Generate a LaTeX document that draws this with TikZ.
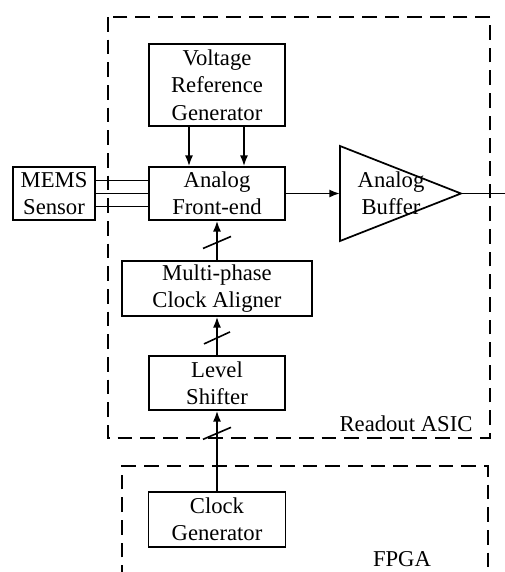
\documentclass[tikz,border=0pt]{standalone}
\usepackage{fontspec}
\setmainfont{Liberation Serif}
\usetikzlibrary{arrows.meta,calc}

\tikzset{every picture/.style={line width=1.3pt}}
\tikzset{
	blk/.style={draw, rectangle, align=center, inner sep=0pt, font=\fontsize{17}{20.5}\selectfont},
	lbl/.style={inner sep=0pt, font=\fontsize{17}{20.5}\selectfont},
	sig/.style={-{Latex[length=8pt,width=6pt]}},
	bound/.style={dash pattern={on 11pt off 6pt}},
	busmark/.style={line width=1.2pt}
}

\begin{document}
\begin{tikzpicture}[x=0.75pt,y=0.75pt,yscale=-1,xscale=1]
	\useasboundingbox (0,0) rectangle (505,572);

	%Blocks
	\node[blk, minimum width=136*0.75pt, minimum height=82*0.75pt] (vrg) at (217,85) {Voltage\\Reference\\Generator};
	\node[blk, minimum width=136*0.75pt, minimum height=53*0.75pt] (afe) at (217,193.5) {Analog\\Front-end};
	\node[blk, minimum width=82*0.75pt, minimum height=53*0.75pt] (mems) at (54,193.5) {MEMS\\Sensor};
	\node[blk, minimum width=190*0.75pt, minimum height=55*0.75pt] (mpca) at (217,288.5) {Multi-phase\\Clock Aligner};
	\node[blk, minimum width=136*0.75pt, minimum height=54*0.75pt] (ls) at (217,383) {Level\\Shifter};
	\node[blk, minimum width=137*0.75pt, minimum height=55*0.75pt] (cg) at (217,519.5) {Clock\\Generator};

	%Shape: Triangle (buffer)
	\coordinate (bufin) at (340,193.5);
	\coordinate (bufout) at (461,193.5);
	\coordinate (outend) at (505,193.5);
	\draw (340,146) -- (bufout) -- (340,241) -- cycle;
	% Text Node
	\node[lbl, align=center] (buf) at (391,193.5) {Analog\\Buffer};

	%Straight Lines
	\draw[sig] ($(vrg.south)+(-28,0)$) -- ($(afe.north)+(-28,0)$);
	\draw[sig] ($(vrg.south)+(27,0)$) -- ($(afe.north)+(27,0)$);
	\foreach \dy in {-13,0,13}
		\draw ($(mems.east)+(0,\dy)$) -- ($(afe.west)+(0,\dy)$);
	\draw[sig] (afe.east) -- (bufin);
	\draw (bufout) -- (outend);

	\draw[sig] (mpca.north) -- (afe.south);
	\draw[busmark] ($(mpca.north)!0.45!(afe.south)$) ++(-14,6) -- ++(28,-12);
	\draw[sig] (ls.north) -- (mpca.south);
	\draw[busmark] ($(ls.north)!0.45!(mpca.south)$) ++(-13,6) -- ++(26,-12);
	\draw[sig] (cg.north) -- (ls.south);
	\draw[busmark] ($(cg.north)!0.72!(ls.south)$) ++(-14,6) -- ++(28,-12);

	%Dashed boundaries
	\draw[bound] (108,17) rectangle (490,438);
	\draw[bound] (122,580) -- (122,466) -- (488,466) -- (488,580);

	% Text Node
	\node[lbl] (asic) at (406,424) {Readout ASIC};
	% Text Node
	\node[lbl] (fpga) at (402,559) {FPGA};

\end{tikzpicture}
\end{document}
